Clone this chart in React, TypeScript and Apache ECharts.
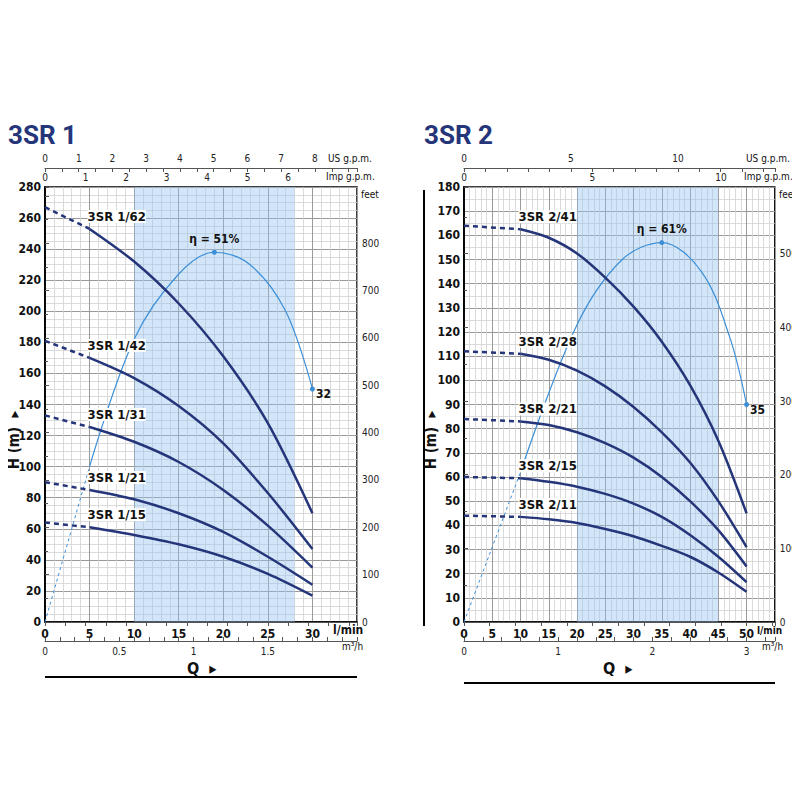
import { useEffect, useRef } from 'react';
import * as echarts from 'echarts';

// --- 3SR 1 data (Q in l/min, H in m)
const qLeft = [0, 5, 10, 15, 20, 25, 30];
const left62 = [267, 253, 232, 205, 171, 128, 70];
const left42 = [181, 170, 157, 139, 115, 83, 47];
const left31 = [133, 125.5, 116, 103, 85, 62, 35];
const left21 = [90, 85, 79, 70, 58, 42, 24];
const left15 = [64, 61, 56, 50, 42, 31, 17];
const leftNames = ['3SR 1/62', '3SR 1/42', '3SR 1/31', '3SR 1/21', '3SR 1/15'];
const leftEffQ = [0, 5, 10, 15, 19, 23, 27, 30];
const leftEffH = [0, 100, 182, 224, 238, 230, 200, 150];

// --- 3SR 2 data
const qRight = [0, 10, 15, 20, 25, 30, 35, 40, 45, 50];
const right41 = [164, 162.5, 159, 152.5, 142.5, 130.5, 116, 98, 75, 45];
const right28 = [112, 111, 108.5, 104, 97.5, 89, 78.5, 66, 50, 31];
const right21 = [84, 83, 81.5, 78.5, 74, 68, 60, 50, 38, 23];
const right15 = [60, 59.5, 58, 56, 53, 49, 43.5, 36, 27, 16.5];
const right11 = [44, 43.5, 42.5, 41, 38.5, 35.5, 31.5, 27, 20.5, 12.5];
const rightNames = ['3SR 2/41', '3SR 2/28', '3SR 2/21', '3SR 2/15', '3SR 2/11'];
const rightEffQ = [0, 10, 20, 28, 35, 42, 47, 50];
const rightEffH = [0, 62, 123, 150, 157, 145, 118, 90];

const NAVY = '#25357a';
const EFF = '#3b8fd8';
const FONT = '"DejaVu Sans Condensed", "Liberation Sans Narrow", Roboto, sans-serif';

function pumpSeries(q: number[], h: number[], name: string, dashEnd: number, xi: number, yi: number) {
  const dashed = q.slice(0, dashEnd + 1).map((x, i) => [x, h[i]]);
  const solid = q.slice(dashEnd).map((x, i) => {
    const p = [x, h[i + dashEnd]];
    if (i === 0)
      return {
        value: p,
        label: { show: true, formatter: name, position: [-2, -19], align: 'left', fontSize: 13, fontWeight: 'bold', color: '#111', fontFamily: FONT, backgroundColor: '#fff' },
      };
    return p;
  });
  return [
    { type: 'line', xAxisIndex: xi, yAxisIndex: yi, data: dashed, symbol: 'none', lineStyle: { color: NAVY, width: 2.5, type: [5, 4] }, z: 5 },
    { type: 'line', xAxisIndex: xi, yAxisIndex: yi, data: solid, smooth: 0.3, symbol: 'circle', symbolSize: 0, showSymbol: true, lineStyle: { color: NAVY, width: 2.5 }, z: 6 },
  ];
}

function effSeries(q: number[], h: number[], pct: string, endLabel: string, xi: number, yi: number, peak: number) {
  const dashed = q.slice(0, 2).map((x, i) => [x, h[i]]);
  const solid = q.slice(1).map((x, i) => {
    const idx = i + 1;
    const p = [x, h[idx]];
    if (idx === peak)
      return { value: p, symbolSize: 5, label: { show: true, formatter: 'η = ' + pct, position: 'top', fontSize: 12, fontWeight: 'bold', color: '#111', fontFamily: FONT } };
    if (idx === q.length - 1)
      return { value: p, symbolSize: 5, label: { show: true, formatter: endLabel, position: [6, 2], fontSize: 12, fontWeight: 'bold', color: '#111', fontFamily: FONT } };
    return { value: p, symbolSize: 0 };
  });
  return [
    { type: 'line', xAxisIndex: xi, yAxisIndex: yi, data: dashed, symbol: 'none', lineStyle: { color: EFF, width: 1, type: [3, 3] }, z: 4 },
    { type: 'line', xAxisIndex: xi, yAxisIndex: yi, data: solid, smooth: 0.35, symbol: 'circle', showSymbol: true, itemStyle: { color: EFF }, lineStyle: { color: EFF, width: 1.2 }, z: 4 },
  ];
}

const isMult = (v: number, m: number) => Math.abs(v / m - Math.round(v / m)) < 1e-6;

function mainX(grid: number, max: number) {
  return {
    type: 'value', gridIndex: grid, min: 0, max, interval: 5, position: 'bottom',
    axisLine: { show: true, lineStyle: { color: '#000', width: 1.5 } },
    axisTick: { show: false },
    axisLabel: { color: '#111', fontWeight: 'bold', fontSize: 12, margin: 6, fontFamily: FONT, showMaxLabel: false },
    splitLine: { show: true, lineStyle: { color: '#9a9a9a', width: 1 } },
    minorTick: { show: false, splitNumber: 5 },
    minorSplitLine: { show: true, lineStyle: { color: '#d2d2d2', width: 0.8 } },
  };
}

function auxX(grid: number, max: number, interval: number, labelEvery: number, labelMax: number, position: string, offset: number) {
  return {
    type: 'value', gridIndex: grid, min: 0, max, interval, position, offset,
    axisLine: { show: true, lineStyle: { color: '#555', width: 1 } },
    axisTick: { show: true, inside: true, length: 4, lineStyle: { color: '#555' } },
    axisLabel: {
      color: '#222', fontSize: 10, margin: 5, fontFamily: FONT,
      formatter: (v: number) => (isMult(v, labelEvery) && v <= labelMax + 1e-6 ? String(Math.round(v * 10) / 10) : ''),
    },
    splitLine: { show: false },
  };
}

function mainY(grid: number, max: number, interval: number, minor: number) {
  return {
    type: 'value', gridIndex: grid, min: 0, max, interval, position: 'left',
    axisLine: { show: true, lineStyle: { color: '#000', width: 1.5 } },
    axisTick: { show: false },
    axisLabel: { color: '#111', fontWeight: 'bold', fontSize: 12, margin: 4, fontFamily: FONT },
    splitLine: { show: true, lineStyle: { color: '#9a9a9a', width: 1 } },
    minorTick: { show: false, splitNumber: minor },
    minorSplitLine: { show: true, lineStyle: { color: '#d2d2d2', width: 0.8 } },
  };
}

function feetY(grid: number, maxM: number, labelMax: number) {
  return {
    type: 'value', gridIndex: grid, min: 0, max: maxM * 3.2808, interval: 100, position: 'right',
    axisLine: { show: true, lineStyle: { color: '#000', width: 1.5 } },
    axisTick: { show: true, length: 4, lineStyle: { color: '#555' } },
    minorTick: { show: true, splitNumber: 2, length: 3, lineStyle: { color: '#555' } },
    axisLabel: { color: '#222', fontSize: 10, margin: 5, fontFamily: FONT, formatter: (v: number) => (v <= labelMax ? String(v) : '') },
    splitLine: { show: false },
  };
}

function txt(x: number, y: number, text: string, size: number, extra: any = {}) {
  return { type: 'text', x, y, style: { text, fontSize: size, fill: '#111', fontFamily: FONT, ...extra } };
}

function hLabel(x: number) {
  return {
    type: 'text', x, y: 440, rotation: Math.PI / 2,
    style: { text: 'H (m)  ▸', fontSize: 15, fontWeight: 'bold', fill: '#111', fontFamily: FONT, align: 'center', verticalAlign: 'middle' },
  };
}

export default function App() {
  const ref = useRef<HTMLDivElement>(null);

  useEffect(() => {
    if (!ref.current) return;
    const chart = echarts.init(ref.current, null, { renderer: 'svg' });

    const shade = (from: number, to: number) => ({
      silent: true,
      itemStyle: { color: 'rgba(150,195,240,0.42)' },
      data: [[{ xAxis: from }, { xAxis: to }]],
    });

    const leftLines = [left62, left42, left31, left21, left15];
    const rightLines = [right41, right28, right21, right15, right11];

    const series: any[] = [];
    leftLines.forEach((h, i) => series.push(...pumpSeries(qLeft, h, leftNames[i], 1, 0, 0)));
    rightLines.forEach((h, i) => series.push(...pumpSeries(qRight, h, rightNames[i], 1, 4, 2)));
    series.push(...effSeries(leftEffQ, leftEffH, '51%', '32', 0, 0, 4));
    series.push(...effSeries(rightEffQ, rightEffH, '61%', '35', 4, 2, 4));
    series[0].markArea = shade(10, 28);
    series[10].markArea = shade(20, 45);

    const option: any = {
      animation: false,
      backgroundColor: '#fff',
      grid: [
        { left: 45, right: 443, top: 187, bottom: 178, show: true, backgroundColor: '#fff', borderColor: '#000', borderWidth: 1.5 },
        { left: 464, right: 25, top: 187, bottom: 178, show: true, backgroundColor: '#fff', borderColor: '#000', borderWidth: 1.5 },
      ],
      xAxis: [
        mainX(0, 35),
        auxX(0, 35 / 4.546, 0.5, 1, 6, 'top', 0),
        auxX(0, 35 / 3.785, 0.5, 1, 8, 'top', 19),
        auxX(0, 35 * 0.06, 0.1, 0.5, 1.5, 'bottom', 19),
        mainX(1, 55),
        auxX(1, 55 / 4.546, 1, 5, 10, 'top', 0),
        auxX(1, 55 / 3.785, 1, 5, 10, 'top', 19),
        auxX(1, 55 * 0.06, 0.2, 1, 3, 'bottom', 19),
      ],
      yAxis: [
        mainY(0, 280, 20, 4),
        feetY(0, 280, 800),
        mainY(1, 180, 10, 2),
        feetY(1, 180, 500),
      ],
      series,
      graphic: [
        txt(8, 122, '3SR 1', 26, { fill: NAVY, fontWeight: 'bold', fontFamily: 'Roboto, sans-serif' }),
        txt(424, 122, '3SR 2', 26, { fill: NAVY, fontWeight: 'bold', fontFamily: 'Roboto, sans-serif' }),
        txt(328, 153, 'US g.p.m.', 10),
        txt(326, 171, 'Imp g.p.m.', 10),
        txt(361, 189, 'feet', 10),
        txt(333, 624, 'l/min', 12, { fontWeight: 'bold' }),
        txt(342, 641, 'm³/h', 10),
        txt(746, 153, 'US g.p.m.', 10),
        txt(744, 171, 'Imp g.p.m.', 10),
        txt(779, 189, 'feet', 10),
        txt(757, 625, 'l/min', 10, { fontWeight: 'bold' }),
        txt(762, 641, 'm³/h', 10),
        txt(187, 660, 'Q  ▸', 16, { fontWeight: 'bold' }),
        txt(603, 660, 'Q  ▸', 16, { fontWeight: 'bold' }),
        hLabel(14),
        hLabel(431),
        { type: 'line', shape: { x1: 7, y1: 190, x2: 7, y2: 626 }, style: { stroke: '#000', lineWidth: 2 } },
        { type: 'line', shape: { x1: 424, y1: 190, x2: 424, y2: 626 }, style: { stroke: '#000', lineWidth: 2 } },
        { type: 'line', shape: { x1: 45, y1: 677, x2: 357, y2: 677 }, style: { stroke: '#000', lineWidth: 2 } },
        { type: 'line', shape: { x1: 464, y1: 683, x2: 775, y2: 683 }, style: { stroke: '#000', lineWidth: 2 } },
      ],
    };

    chart.setOption(option);
    return () => chart.dispose();
  }, []);

  return <div ref={ref} style={{ width: 800, height: 800, margin: -8 }} />;
}
